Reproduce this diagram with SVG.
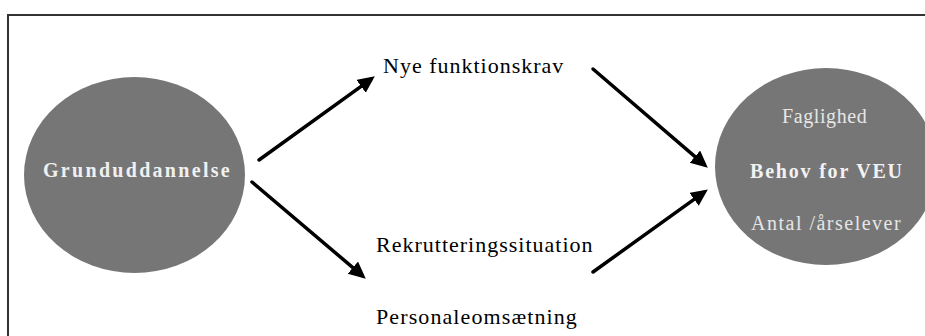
<svg xmlns="http://www.w3.org/2000/svg" width="925" height="336" viewBox="0 0 925 336">
<style>
.node{fill:#767676;}
.lbl{font-family:"Liberation Serif","Times New Roman",serif;font-size:22px;fill:#000;letter-spacing:1px;}
.in{font-family:"Liberation Serif","Times New Roman",serif;font-size:20px;}
.b{font-weight:bold;fill:#f2f2f2;}
.r{fill:#e6e6e6;}
.conn line{stroke:#000;stroke-width:3.5;stroke-linecap:round;marker-end:url(#ah);}
</style>
<defs>
<marker id="ah" markerUnits="userSpaceOnUse" markerWidth="20" markerHeight="18" refX="12" refY="8" orient="auto" viewBox="0 0 20 18">
<path d="M0,0 L17,8 L0,16 z" fill="#000"/>
</marker>
</defs>
<rect x="0" y="0" width="925" height="336" fill="#fff"/>
<path d="M8,340 L8,15 L930,15" fill="none" stroke="#333" stroke-width="2"/>
<g id="grunduddannelse">
<ellipse class="node" cx="134.5" cy="175" rx="110.5" ry="98"/>
<text class="in b" x="43" y="177" style="letter-spacing:2.3px;fill:#f0f0f0">Grunduddannelse</text>
</g>
<g id="behov">
<ellipse class="node" cx="826" cy="166.5" rx="111" ry="98.5"/>
<text class="in r" x="782" y="123" style="letter-spacing:0.6px">Faglighed</text>
<text class="in b" x="750" y="178" style="letter-spacing:1.8px">Behov for VEU</text>
<text class="in r" x="751" y="230" style="letter-spacing:1.5px">Antal /årselever</text>
</g>
<g id="nye">
<text class="lbl" x="383" y="73">Nye funktionskrav</text>
</g>
<g id="rekruttering">
<text class="lbl" x="376" y="252">Rekrutteringssituation</text>
</g>
<g id="personale">
<text class="lbl" x="376" y="324" style="letter-spacing:1.1px">Personaleomsætning</text>
</g>
<g id="connectors" class="conn">
<line x1="259" y1="160" x2="370.8" y2="79.3"/>
<line x1="252" y1="182" x2="362" y2="275.4"/>
<line x1="593" y1="69" x2="704" y2="164.4"/>
<line x1="593" y1="272" x2="703.8" y2="192.3"/>
</g>
</svg>
